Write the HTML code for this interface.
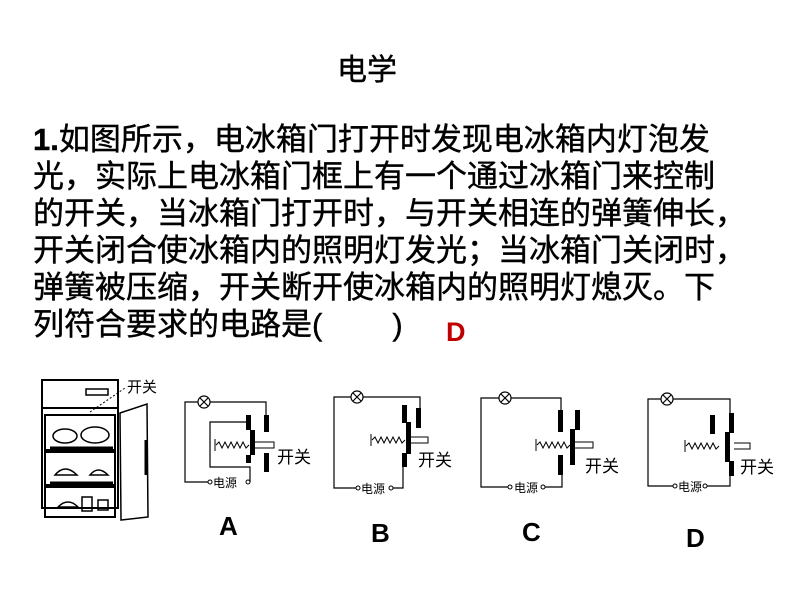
<!DOCTYPE html>
<html><head><meta charset="utf-8"><style>
body{margin:0;width:800px;height:600px;background:#fff;position:relative;overflow:hidden;font-family:"Liberation Sans","Noto Sans CJK SC",sans-serif;}
.t{position:absolute;white-space:nowrap;font-size:31px;line-height:37px;color:#000;left:33px;-webkit-text-stroke:0.4px #000}
</style></head><body>
<div class="t" style="left:337px;top:52px;font-size:30px">电学</div>
<div class="t" style="top:121px"><b>1.</b>如图所示，电冰箱门打开时发现电冰箱内灯泡发</div>
<div class="t" style="top:158px">光，实际上电冰箱门框上有一个通过冰箱门来控制</div>
<div class="t" style="top:195px">的开关，当冰箱门打开时，与开关相连的弹簧伸长，</div>
<div class="t" style="top:232px">开关闭合使冰箱内的照明灯发光；当冰箱门关闭时，</div>
<div class="t" style="top:269px">弹簧被压缩，开关断开使冰箱内的照明灯熄灭。下</div>
<div class="t" style="top:306px">列符合要求的电路是(<span style="display:inline-block;width:70px"></span>)</div>
<div class="t" style="left:446px;top:314px;color:#c00000;font-weight:bold;font-size:27px;-webkit-text-stroke:0">D</div>
<svg width="800" height="600" style="position:absolute;left:0;top:0" font-family="Liberation Sans,Noto Sans CJK SC,sans-serif">
<defs>
<g id="lamp"><circle r="6" fill="#fff" stroke="#000" stroke-width="1.2"/><path d="M-4,-4L4,4M4,-4L-4,4" stroke="#000" stroke-width="1.2"/></g>
<g id="spring"><path d="M0,0 l3,-3 l3,6 l3,-6 l3,6 l3,-6 l3,6 l3,-6 l3,6 l3,-6 l3,6 l3,-3" fill="none" stroke="#000" stroke-width="1"/></g>
</defs>
<!-- fridge -->
<g fill="none" stroke="#000" stroke-width="2">
<rect x="42" y="380" width="76" height="128"/>
<line x1="42" y1="408" x2="118" y2="408"/>
<rect x="86" y="389" width="22" height="6" stroke-width="1.5"/>
<rect x="45" y="415" width="70" height="35"/>
<rect x="45" y="452" width="70" height="33"/>
<rect x="45" y="487" width="70" height="30"/>
<line x1="50" y1="448" x2="113" y2="448" stroke-width="3"/>
<line x1="50" y1="483" x2="113" y2="483" stroke-width="3"/>
<polygon points="120,413 147,404 148,517 121,520" stroke-width="1.5"/>
<line x1="146" y1="440" x2="146" y2="475" stroke-width="3"/>
<line x1="90" y1="412" x2="125" y2="388" stroke-dasharray="2,2" stroke-width="1"/>
<ellipse cx="65" cy="436" rx="12" ry="7" stroke-width="1.5"/>
<ellipse cx="95" cy="435" rx="14" ry="8" stroke-width="1.5"/>
<path d="M55,475 q10,-12 22,0 z M90,475 q8,-10 18,0 z" stroke-width="1.5"/>
<path d="M58,507 q10,-10 20,0 z M82,497 h10 v14 h-10 z M98,500 h10 v10 h-10 z" stroke-width="1.5"/>
</g>
<text x="127" y="392" font-size="15">开关</text>
<g stroke="#000" fill="none" stroke-width="1.2">
<!-- A -->
<path d="M200,402 H185 V482 H208 M250,482 V467 H210 V422 H248 M209,402 H266 V415"/>
<!-- B -->
<path d="M352,397 H334 V488 H356 M393,488 H403 V465 M363,397 H420 V408"/>
<!-- C -->
<path d="M499,398 H481 V487 H508 M545,487 H562 V475 M511,398 H561 V410"/>
<!-- D -->
<path d="M661,399 H648 V486 H673 M707,486 H730 V475 M673,399 H730 V413"/>
</g>
<g fill="#000">
<!-- A -->
<rect x="264" y="415" width="5" height="17"/><rect x="264" y="453" width="5" height="19"/>
<rect x="246" y="415" width="5" height="15"/><rect x="250" y="430" width="5" height="25"/><rect x="246" y="455" width="5" height="8"/>
<!-- B -->
<rect x="416" y="408" width="5" height="20"/>
<rect x="402" y="405" width="5" height="18"/><rect x="406" y="422" width="5" height="32"/><rect x="402" y="453" width="5" height="14"/>
<!-- C -->
<rect x="558" y="410" width="5" height="22"/><rect x="558" y="455" width="5" height="20"/>
<rect x="575" y="410" width="5" height="20"/><rect x="570" y="429" width="5" height="36"/>
<!-- D -->
<rect x="710" y="415" width="5" height="19"/>
<rect x="729" y="413" width="5" height="20"/><rect x="725" y="432" width="5" height="30"/><rect x="729" y="461" width="5" height="15"/>
</g>
<use href="#lamp" x="204" y="402"/><use href="#lamp" x="357" y="397"/><use href="#lamp" x="505" y="398"/><use href="#lamp" x="667" y="399"/>
<use href="#spring" x="216" y="445"/><use href="#spring" x="372" y="440"/><use href="#spring" x="537" y="445"/><use href="#spring" x="686" y="446"/>
<g stroke="#000" stroke-width="1" fill="none">
<path d="M215,439 v12 M371,434 v12 M536,439 v12 M685,440 v12"/>
<path d="M255,442 h19 v6 h-19 M411,437 h17 v6 h-17 M575,442 h18 v6 h-18 M734,443 h16 v6 h-16"/>
<circle cx="210" cy="482" r="2"/><circle cx="248" cy="482" r="2"/>
<circle cx="358" cy="488" r="2"/><circle cx="391" cy="488" r="2"/>
<circle cx="510" cy="487" r="2"/><circle cx="543" cy="487" r="2"/>
<circle cx="675" cy="486" r="2"/><circle cx="705" cy="486" r="2"/>
</g>
<g font-size="12"><text x="213" y="487">电源</text><text x="361" y="493">电源</text><text x="514" y="492">电源</text><text x="678" y="491">电源</text></g>
<g font-size="17"><text x="277" y="463">开关</text><text x="418" y="466">开关</text><text x="585" y="472">开关</text><text x="740" y="473">开关</text></g>
<g font-size="26" font-weight="bold"><text x="219" y="535">A</text><text x="371" y="542">B</text><text x="522" y="541">C</text><text x="686" y="547">D</text></g>
</svg>
</body></html>
